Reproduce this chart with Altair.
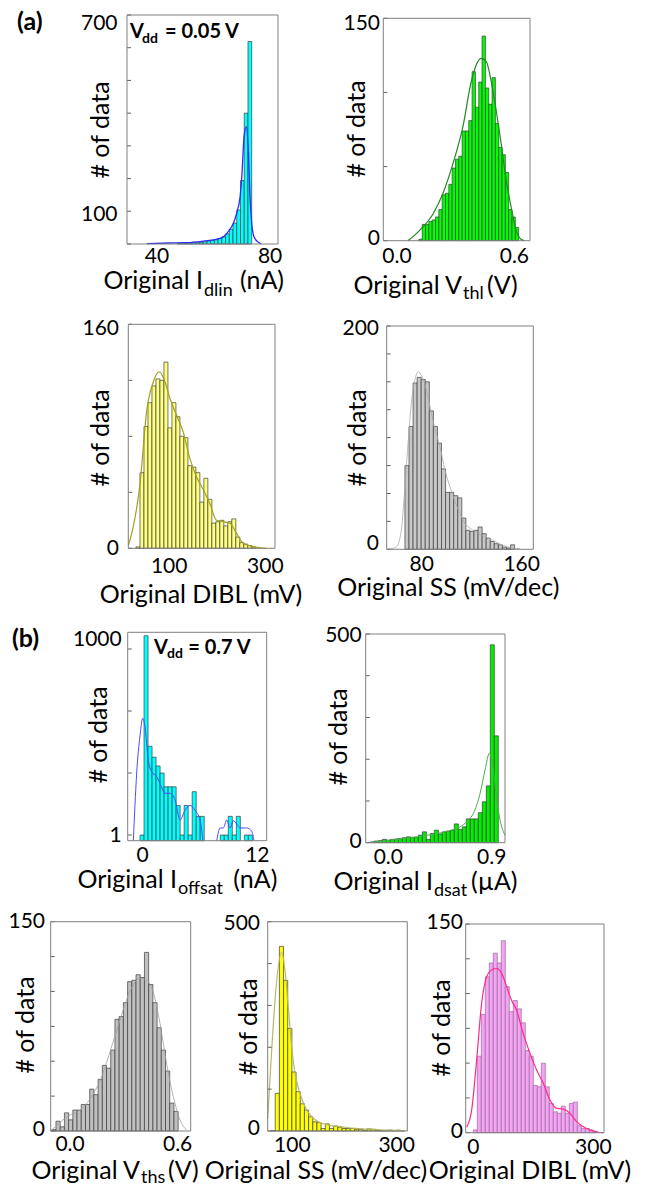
import altair as alt
import pandas as pd

FONT = "Lato"
TICK_FS = 21
TITLE_FS = 25
SUB_FS = 18
FRAME = "#808080"
ONE = pd.DataFrame({"k": [0]})

# ---------------- data ----------------
# (a) Vdd = 0.05 V
IDLIN_START, IDLIN_WIDTH = 47.1, 1.32
IDLIN_COUNTS = [2, 4, 2, 3, 5, 4, 5, 7, 9, 11, 13, 17, 22, 31, 45, 64, 104, 194, 400, 619]
IDLIN_FIT_X = [36.4, 44.6, 50.5, 56.4, 62.3, 65.2, 67.0, 68.2, 69.4, 70.0, 70.8, 71.6, 72.3, 72.9, 73.5, 74.3, 75.9, 76.8]
IDLIN_FIT_Y = [1, 3, 4, 9, 17, 38, 63, 94, 145, 206, 328, 359, 287, 145, 64, 22, 5, 0]

VTHL_START, VTHL_WIDTH = 0.112, 0.017
VTHL_COUNTS = [1, 11, 11, 13, 14, 16, 21, 31, 32, 38, 49, 55, 57, 74, 74, 81, 114, 90, 107, 138,
               103, 92, 110, 79, 63, 58, 46, 21, 16, 9]
VTHL_FIT_X = [0.056, 0.116, 0.184, 0.235, 0.286, 0.337, 0.379, 0.405, 0.430, 0.456, 0.481, 0.507,
              0.532, 0.558, 0.583, 0.609, 0.634, 0.651]
VTHL_FIT_Y = [0, 7, 18, 32, 52, 77, 107, 118.5, 123, 121, 108, 88, 66, 41, 23, 7, 1, 0]

DIBL_A_START, DIBL_A_WIDTH = 31.0, 8.3
DIBL_A_COUNTS = [1, 54, 87, 104, 116, 121, 120, 133, 86, 104, 94, 80, 79, 59, 58, 54, 33, 50, 35, 18,
                 19, 20, 16, 19, 21, 8, 4, 3, 2, 1]
DIBL_A_FIT_X = [15.0, 25.4, 39.3, 53.2, 67.0, 79.5, 91.2, 101.6, 115.5, 129.2, 143.1, 157.0, 170.7,
                184.6, 198.5, 212.2, 226.1, 240.0, 253.7, 274.5, 302.3]
DIBL_A_FIT_Y = [2, 15.5, 46, 98, 119, 126, 119, 107, 95, 83, 64, 51, 42, 32, 20, 19, 18, 10.7, 3.6, 1.2, 0]

SS_A_START, SS_A_WIDTH = 66.6, 3.25
SS_A_COUNTS = [75, 110, 149, 154, 152, 150, 124, 110, 95, 72, 51, 51, 48, 46, 28, 17, 16, 17, 20, 14,
               10, 7, 5, 4, 2, 1, 4]
SS_A_FIT_X = [53.3, 60.0, 64.0, 66.6, 69.3, 72.0, 74.6, 77.3, 80.0, 82.6, 86.6, 90.6, 94.6, 98.6, 102.6,
              106.6, 110.6, 114.6, 118.6, 122.6, 126.6, 132.0, 137.3, 142.6, 148.0, 158.6]
SS_A_FIT_Y = [0, 2.4, 20, 56, 98, 134, 152, 159, 155, 147.5, 128, 108, 92, 71, 56, 43, 32, 23, 19, 16,
              13.4, 10.7, 7.8, 4.8, 2.4, 0.6]

# (b) Vdd = 0.7 V
IOFF_START, IOFF_WIDTH = -0.28, 0.42
IOFF_COUNTS = [1, 1640, 27, 18, 13, 10, 6, 6, 6, 3, 1, 3, 1, 5, 2, 2, 0, 0, 0, 0, 1, 1, 2, 1, 2, 0, 1, 1]
# the fitted curve leaves the (log) axis floor between ~6.3 and ~7.8 nA: two visible pieces
IOFF_FIT1_X = [-0.98, -0.81, -0.63, -0.28, 0.0, 0.24, 0.59, 0.94, 1.47, 1.81, 2.34, 2.86, 3.38, 3.91,
               4.43, 4.95, 5.48, 6.0, 6.3]
IOFF_FIT1_Y = [0.81, 3, 10, 40, 76, 56, 16, 10.5, 8.7, 6.8, 4.7, 4.7, 3.7, 1.75, 2.5, 3.0, 2.5, 1.75, 0.81]
IOFF_FIT2_X = [7.75, 8.1, 8.44, 8.8, 9.14, 9.49, 9.84, 10.19, 10.89, 11.41, 11.65]
IOFF_FIT2_Y = [0.81, 1.3, 1.3, 1.75, 1.3, 1.7, 1.5, 1.3, 1.3, 1.15, 0.81]

IDSAT_START, IDSAT_WIDTH = -0.156, 0.0348
IDSAT_COUNTS = [2, 4, 5, 8, 6, 8, 9, 10, 12, 14, 13, 13, 18, 26, 8, 22, 30, 21, 26, 28, 30, 45, 32, 38,
                57, 57, 57, 72, 98, 136, 474, 256]
IDSAT_FIT_X = [-0.159, 0.131, 0.3, 0.421, 0.55, 0.624, 0.69, 0.740, 0.799, 0.842, 0.880, 0.915, 0.944,
               0.973, 1.002, 1.016]
IDSAT_FIT_Y = [0, 10, 16, 22, 30, 38, 52, 70, 118, 174, 214, 174, 102, 54, 26, 18]

VTHS_START, VTHS_WIDTH = -0.102, 0.0235
VTHS_COUNTS = [1, 7, 3, 13, 8, 15, 15, 19, 19, 30, 26, 37, 47, 45, 58, 80, 82, 92, 107, 108, 112, 110,
               128, 105, 92, 74, 58, 43, 20, 14]
VTHS_FIT_X = [-0.102, -0.019, 0.074, 0.167, 0.260, 0.334, 0.390, 0.427, 0.465, 0.502, 0.539, 0.576,
              0.613, 0.650]
VTHS_FIT_Y = [0.7, 10, 17, 36, 72, 100, 109.5, 108, 99, 77, 48, 24.6, 8, 0.7]

SS_B_START, SS_B_WIDTH = 59.2, 8.0
SS_B_COUNTS = [1, 90, 441, 360, 245, 141, 94, 65, 50, 34, 22, 20, 6, 17, 6, 12, 9, 6, 6, 6, 4, 4, 2, 5,
               4, 2, 1, 1, 2, 1, 2, 1]
SS_B_FIT_X = [52.8, 79.7, 86.0, 92.3, 98.8, 105.2, 114.8, 124.3, 137.1, 149.8, 169.0, 194.7, 220.2,
              245.7, 271.4, 296.9, 316.0]
SS_B_FIT_Y = [30, 427, 383, 295, 200, 137, 90, 58, 34, 22, 14, 10, 6.4, 4.8, 2.4, 1.6, 0.8]

DIBL_B_START, DIBL_B_WIDTH = 0.0, 10.0
DIBL_B_COUNTS = [2, 55, 85, 112, 122, 129, 122, 138, 105, 87, 95, 89, 79, 59, 55, 34, 33, 50, 33, 21,
                 15, 14, 19, 14, 21, 22, 5, 3, 3, 2, 1]
DIBL_B_FIT_X = [-16.7, -4.2, 8.3, 20.8, 33.3, 45.8, 58.3, 70.8, 83.3, 95.8, 108.3, 125, 141.7, 158.3,
                175, 191.7, 208.3, 225, 241.7, 258.3, 275, 291.7, 308.3, 325]
DIBL_B_FIT_Y = [4, 16, 52, 93, 112, 117, 118, 114.5, 105, 95, 88, 71, 57, 45, 35.5, 23.5, 17.5, 17, 14,
                8, 4.3, 2, 0.5, 0]


# ---------------- helpers ----------------
def T(s, x, y, size=TITLE_FS, align="left", weight="normal", angle=0, baseline="alphabetic"):
    return alt.Chart(ONE).mark_text(
        text=s, align=align, baseline=baseline, font=FONT, fontSize=size,
        fontWeight=weight, angle=angle, color="black"
    ).encode(x=alt.value(x), y=alt.value(y))


def ytitle(x, y):
    return T("# of data", x, y, TITLE_FS, "center", angle=270, baseline="middle")


def subtitle(main, sub, tail, x_join, y_main, y_sub, x_tail):
    # "main" ends where the subscript starts; tail follows the subscript
    return [T(main, x_join, y_main, align="right"),
            T(sub, x_join + 1, y_sub, SUB_FS),
            T(tail, x_tail, y_main)]


def bins_df(start, width, counts):
    rows = []
    for i, c in enumerate(counts):
        if c > 0:
            rows.append({"x0": start + i * width, "x1": start + (i + 1) * width, "n": c})
    return pd.DataFrame(rows)


def fit_df(pieces):
    rows = []
    for k, (xs, ys) in enumerate(pieces):
        for a, b in zip(xs, ys):
            rows.append({"x": a, "y": b, "seg": k})
    return pd.DataFrame(rows)


def panel(p):
    L, R, Tp, B = p["box"]
    xs = alt.Scale(domain=p["xdom"], range=[L, R], nice=False, zero=False)
    if p.get("ylog"):
        ys = alt.Scale(type="log", domain=p["ydom"], range=[B, Tp], nice=False)
        base = p["ydom"][0]
    else:
        ys = alt.Scale(domain=p["ydom"], range=[B, Tp], nice=False, zero=False)
        base = 0

    def X(f):
        return alt.X(f, scale=xs, axis=None)

    def Y(f):
        return alt.Y(f, scale=ys, axis=None)

    layers = []
    layers.append(alt.Chart(bins_df(*p["bins"])).mark_rect(
        fill=p["fill"], stroke=p.get("bstroke", "#3c3c3c"), strokeWidth=0.7
    ).encode(x=X("x0:Q"), x2="x1:Q", y=Y("n:Q"), y2=alt.datum(base)))
    layers.append(alt.Chart(fit_df(p["fit"])).mark_line(
        color=p["lcolor"], strokeWidth=p["lw"], interpolate="monotone"
    ).encode(x=X("x:Q"), y=Y("y:Q"), detail="seg:N"))
    layers.append(alt.Chart(pd.DataFrame({"t": p["yticks"]})).mark_rule(
        color="#606060", strokeWidth=1
    ).encode(y=Y("t:Q"), x=alt.value(L), x2=alt.value(L + 4)))
    layers.append(alt.Chart(ONE).mark_rect(
        fill="white", fillOpacity=0, stroke=FRAME, strokeWidth=1
    ).encode(
        x=alt.XDatum(p["xdom"][0], type="quantitative", scale=xs, axis=None),
        x2=alt.X2Datum(p["xdom"][1]),
        y=alt.YDatum(p["ydom"][0], type="quantitative", scale=ys, axis=None),
        y2=alt.Y2Datum(p["ydom"][1])))
    # y tick labels (bottom and top values)
    for v, dy in ((min(p["ylab"]), p["boff"]), (max(p["ylab"]), p["toff"])):
        layers.append(alt.Chart(pd.DataFrame({"v": [v]})).mark_text(
            align="right", baseline="middle", font=FONT, fontSize=TICK_FS, color="black", dy=dy
        ).encode(y=Y("v:Q"), x=alt.value(p["yright"]), text=alt.Text("v:Q", format="d")))
    # x tick labels
    layers.append(alt.Chart(pd.DataFrame({"v": p["xlab"]})).mark_text(
        align="center", baseline="top", font=FONT, fontSize=TICK_FS, color="black"
    ).encode(x=X("v:Q"), y=alt.value(p["xlaby"]), text=alt.Text("v:Q", format=p["xfmt"])))
    layers += p["texts"]
    return alt.layer(*layers)


# ---------------- panels ----------------
A1 = panel(dict(
    box=(127, 278, 15, 244),
    bins=(IDLIN_START, IDLIN_WIDTH, IDLIN_COUNTS), fit=[(IDLIN_FIT_X, IDLIN_FIT_Y)],
    xdom=[29.4, 82.8], ydom=[0, 700], xlab=[40, 80], ylab=[100, 700],
    yticks=[0, 100, 200, 300, 400, 500, 600, 700],
    xfmt="d", xlaby=245.5, yright=117.5, toff=8.8, boff=3.5,
    fill="#00FFFF", lcolor="#2B2BFF", lw=1.3,
    texts=[T("(a)", 17, 30, 25, weight="bold"),
           T("V", 130, 38.3, 20, weight="bold"), T("dd", 142, 43, 14, weight="bold"),
           T("= 0.05 V", 165, 38.3, 20, weight="bold"),
           ytitle(101, 130)]
    + subtitle("Original I", "dlin", "(nA)", 203, 289, 296, 240)))

A2 = panel(dict(
    box=(383.3, 530, 18.3, 240.7),
    bins=(VTHL_START, VTHL_WIDTH, VTHL_COUNTS), fit=[(VTHL_FIT_X, VTHL_FIT_Y)],
    xdom=[-0.07, 0.68], ydom=[0, 150], xlab=[0.0, 0.6], ylab=[0, 150], yticks=[0, 50, 100, 150],
    xfmt=".1f", xlaby=246, yright=380, toff=5.5, boff=-1.9,
    fill="#00FF00", lcolor="#1E8C1E", lw=1.2,
    texts=[ytitle(357, 129)]
    + subtitle("Original V", "thl", "(V)", 462, 294, 298.5, 487)))

A3 = panel(dict(
    box=(128.3, 275, 324.3, 548.3),
    bins=(DIBL_A_START, DIBL_A_WIDTH, DIBL_A_COUNTS), fit=[(DIBL_A_FIT_X, DIBL_A_FIT_Y)],
    xdom=[15, 320], ydom=[0, 160], xlab=[100, 300], ylab=[0, 160], yticks=[0, 40, 80, 120, 160],
    xfmt="d", xlaby=556, yright=119, toff=4.5, boff=0.5,
    fill="#FFFF80", lcolor="#A3A31A", lw=1.2,
    texts=[ytitle(101, 438), T("Original DIBL (mV)", 201, 602.5, align="center")]))

A4 = panel(dict(
    box=(386.7, 533.3, 326, 549.3),
    bins=(SS_A_START, SS_A_WIDTH, SS_A_COUNTS), fit=[(SS_A_FIT_X, SS_A_FIT_Y)],
    xdom=[52, 169.3], ydom=[0, 200], xlab=[80, 160], ylab=[0, 200],
    yticks=[0, 25, 50, 75, 100, 125, 150, 175, 200],
    xfmt="d", xlaby=554, yright=379, toff=2.8, boff=-5.5,
    fill="#C8C8C8", lcolor="#A8A8A8", lw=0.8,
    texts=[ytitle(358, 438), T("Original SS (mV/dec)", 448.3, 596, align="center")]))

B1 = panel(dict(
    box=(127.7, 266.7, 632.3, 840.7),
    bins=(IOFF_START, IOFF_WIDTH, IOFF_COUNTS),
    fit=[(IOFF_FIT1_X, IOFF_FIT1_Y), (IOFF_FIT2_X, IOFF_FIT2_Y)],
    xdom=[-1.57, 12.98], ydom=[0.81, 1860], ylog=True, xlab=[0, 12], ylab=[1, 1000],
    yticks=[1, 10, 100, 1000],
    xfmt="d", xlaby=845, yright=121.7, toff=-9.3, boff=0.8,
    fill="#00FFFF", lcolor="#4D4DFF", lw=1.0,
    texts=[T("(b)", 12, 647, 25, weight="bold"),
           T("V", 154, 654, 20, weight="bold"), T("dd", 167, 658.3, 14, weight="bold"),
           T("= 0.7 V", 188.3, 654, 20, weight="bold"),
           ytitle(99, 735)]
    + subtitle("Original I", "offsat", "(nA)", 177, 888, 894, 233.3)))

B2 = panel(dict(
    box=(365.7, 505, 634, 842.7),
    bins=(IDSAT_START, IDSAT_WIDTH, IDSAT_COUNTS), fit=[(IDSAT_FIT_X, IDSAT_FIT_Y)],
    xdom=[-0.197, 1.016], ydom=[0, 500], xlab=[0.0, 0.9], ylab=[0, 500],
    yticks=[0, 100, 200, 300, 400, 500],
    xfmt=".1f", xlaby=847, yright=361.7, toff=2.3, boff=-0.9,
    fill="#00F000", lcolor="#4CAF50", lw=1.0,
    texts=[ytitle(339, 737)]
    + subtitle("Original I", "dsat", "(µA)", 433, 890, 896, 471)))

B3 = panel(dict(
    box=(50.7, 190.7, 921.7, 1131),
    bins=(VTHS_START, VTHS_WIDTH, VTHS_COUNTS), fit=[(VTHS_FIT_X, VTHS_FIT_Y)],
    xdom=[-0.108, 0.673], ydom=[0, 150], xlab=[0.0, 0.6], ylab=[0, 150],
    yticks=[0, 25, 50, 75, 100, 125, 150],
    xfmt=".1f", xlaby=1134, yright=45, toff=0.3, boff=-0.7,
    fill="#C0C0C0", lcolor="#A0A0A0", lw=0.8,
    texts=[ytitle(26, 1025)]
    + subtitle("Original V", "ths", "(V)", 140, 1179, 1183, 168)))

B4 = panel(dict(
    box=(267.7, 407.3, 921.7, 1131),
    bins=(SS_B_START, SS_B_WIDTH, SS_B_COUNTS), fit=[(SS_B_FIT_X, SS_B_FIT_Y)],
    xdom=[52.8, 320.4], ydom=[0, 500], xlab=[100, 300], ylab=[0, 500],
    yticks=[0, 100, 200, 300, 400, 500],
    xfmt="d", xlaby=1135, yright=260, toff=2.1, boff=-2.2,
    fill="#FFFF00", lcolor="#B8B865", lw=1.2,
    texts=[ytitle(249, 1027), T("Original SS (mV/dec)", 316, 1179, align="center")]))

B5 = panel(dict(
    box=(465.7, 604, 924, 1132.7),
    bins=(DIBL_B_START, DIBL_B_WIDTH, DIBL_B_COUNTS), fit=[(DIBL_B_FIT_X, DIBL_B_FIT_Y)],
    xdom=[-19, 326.7], ydom=[0, 150], xlab=[0, 300], ylab=[0, 150],
    yticks=[0, 25, 50, 75, 100, 125, 150],
    xfmt="d", xlaby=1136.5, yright=463, toff=-0.7, boff=-0.7,
    fill="#F5A3F5", bstroke="#9A6A9A", lcolor="#FF2A8A", lw=1.2,
    texts=[ytitle(442, 1028), T("Original DIBL (mV)", 530, 1179, align="center")]))

chart = alt.layer(A1, A2, A3, A4, B1, B2, B3, B4, B5).resolve_scale(
    x="independent", y="independent"
).properties(
    width=645, height=1187, padding=0, background="white",
    autosize=alt.AutoSizeParams(type="none")
).configure_view(stroke="transparent")

chart.save("out.html", embed_options={"renderer": "svg", "actions": False})
